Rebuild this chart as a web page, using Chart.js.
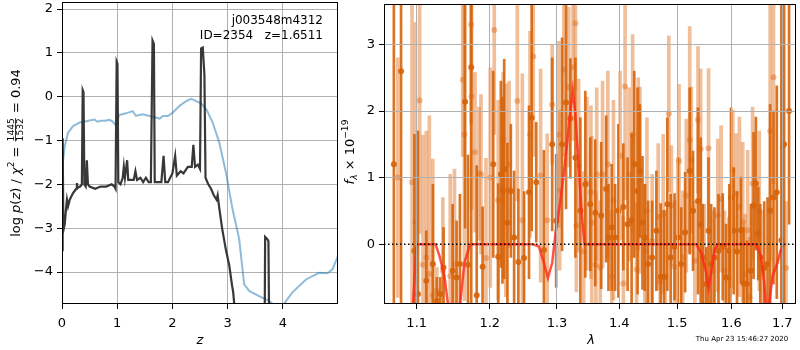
<!DOCTYPE html>
<html>
<head>
<meta charset="utf-8">
<script src="https://cdn.jsdelivr.net/npm/chart.js@4.4.0/dist/chart.umd.min.js"></script>
<style>
  body { margin: 0; background: #fff; }
  #wrap { position: relative; width: 800px; height: 350px; }
  canvas { position: absolute; left: 0; top: 0; }
</style>
</head>
<body>
<div id="wrap">
  <canvas id="pz" width="800" height="350"></canvas>
  <canvas id="spec" width="800" height="350"></canvas>
</div>
<script>
// ---- left panel: log p(z) ----
const zTicks = [0, 1, 2, 3, 4];
const logpTicks = [-4, -3, -2, -1, 0, 1, 2];

const pzZDark = [0, 0.012, 0.025, 0.05, 0.07, 0.09, 0.11, 0.14, 0.2, 0.26, 0.27, 0.28, 0.33, 0.36, 0.375, 0.39, 0.405, 0.43, 0.45, 0.47, 0.5, 0.6, 0.7, 0.8, 0.9, 0.95, 0.97, 0.99, 1.005, 1.02, 1.06, 1.1, 1.12, 1.14, 1.18, 1.2, 1.25, 1.3, 1.33, 1.36, 1.42, 1.47, 1.52, 1.57, 1.61, 1.64, 1.665, 1.68, 1.75, 1.8, 1.84, 1.87, 1.92, 1.96, 2.0, 2.05, 2.08, 2.15, 2.2, 2.28, 2.35, 2.38, 2.41, 2.46, 2.5, 2.52, 2.55, 2.58, 2.6, 2.65, 2.7, 2.75, 2.8, 2.82, 2.85, 2.9, 2.97, 3.03, 3.08, 3.1, 3.14, 3.3, 3.66, 3.68, 3.72, 3.74, 3.77, 3.9];
const pzLogDark = [-3.5, -0.95, -3.05, -2.9, -2.6, -2.35, -2.5, -2.35, -2.2, -2.1, -1.97, -2.08, -2.05, -2.0, 0.15, 0.1, -2.0, -2.05, -1.45, -2.0, -2.05, -2.1, -2.05, -2.05, -2.0, -2.05, -2.1, 0.8, 0.75, -1.95, -2.0, -1.85, -1.6, -1.85, -1.45, -1.9, -1.9, -1.9, -1.7, -1.9, -1.85, -1.95, -1.85, -1.95, -1.95, 1.28, 1.2, -1.95, -1.95, -1.95, -1.35, -1.95, -1.95, -1.85, -1.75, -1.35, -1.8, -1.7, -1.75, -1.6, -1.6, -1.1, -1.6, -1.55, -1.65, 1.1, 1.12, 0.5, -1.85, -2.0, -2.1, -2.25, -2.35, -2.25, -2.55, -3.0, -3.5, -3.85, -4.3, -4.45, -5.0, -8, -8, -3.2, -3.25, -3.3, -8, -8];

const pzZBlue = [0, 0.05, 0.11, 0.2, 0.32, 0.44, 0.52, 0.59, 0.64, 0.7, 0.78, 0.86, 0.92, 0.96, 1.0, 1.03, 1.16, 1.28, 1.34, 1.4, 1.46, 1.55, 1.64, 1.77, 1.83, 1.92, 2.0, 2.13, 2.25, 2.34, 2.43, 2.52, 2.62, 2.73, 2.85, 2.97, 3.09, 3.21, 3.3, 3.39, 3.57, 3.75, 3.87, 3.99, 4.17, 4.42, 4.66, 4.81, 4.9, 5.0];
const pzLogBlue = [-1.66, -1.13, -0.82, -0.67, -0.59, -0.56, -0.54, -0.52, -0.57, -0.55, -0.55, -0.53, -0.57, -0.63, -0.62, -0.42, -0.38, -0.33, -0.44, -0.42, -0.4, -0.43, -0.46, -0.5, -0.44, -0.44, -0.37, -0.21, -0.1, -0.05, -0.1, -0.15, -0.3, -0.59, -1.05, -1.73, -2.57, -3.25, -4.28, -4.43, -4.55, -4.66, -4.78, -4.78, -4.47, -4.17, -4.02, -4.03, -3.94, -3.63];

// ---- right panel: spectrum ----
const lamTicks = [1.1, 1.2, 1.3, 1.4, 1.5, 1.6, 1.7];
const fluxTicks = [0, 1, 2, 3];

// darker grism points
const g1Wave = [1.0705, 1.0797, 1.0970, 1.1017, 1.1127, 1.1214, 1.1267, 1.1313, 1.1357, 1.1481, 1.1535, 1.1581, 1.1652, 1.1693, 1.1738, 1.1815, 1.1898, 1.2050, 1.2121, 1.2160, 1.2183, 1.2208, 1.2255, 1.2305, 1.2353, 1.2416, 1.2500, 1.2574, 1.2614, 1.2683, 1.2799, 1.2926, 1.2987, 1.3079, 1.3141, 1.3209, 1.3288, 1.3367, 1.3446, 1.3526, 1.3606, 1.3703, 1.3784, 1.3822, 1.3876, 1.3931, 1.3986, 1.4069, 1.4140, 1.4208, 1.4253, 1.4309, 1.4349, 1.4393, 1.4433, 1.4490, 1.4559, 1.4633, 1.4709, 1.4767, 1.4825, 1.4884, 1.4954, 1.5013, 1.5072, 1.5143, 1.5226, 1.5286, 1.5377, 1.5426, 1.5467, 1.5529, 1.5571, 1.5619, 1.5681, 1.5756, 1.5837, 1.5899, 1.5962, 1.5993, 1.6044, 1.6108, 1.6184, 1.6234, 1.6300, 1.6377, 1.6429, 1.6474, 1.6521, 1.6560, 1.6638, 1.6704, 1.6756, 1.6823, 1.6889, 1.6982, 1.7037, 1.7138];
const g1Flux = [1.2, 2.6, -0.1, -0.75, -0.55, -0.3, -0.85, -0.75, -0.35, -0.4, -0.5, -0.3, 2.14, -0.31, 2.66, -0.77, -0.34, 1.2, -0.19, 1.05, 0.81, 1.13, 0.32, 0.8, 0.1, -0.27, -0.21, 0.78, 1.9, 0.93, -0.09, 1.5, 0.35, 1.5, 2.13, 1.89, 1.3, 0.5, 0.9, 0.6, 0.47, 0.43, 0.83, 0.1, 0.25, 0.1, 0.5, 0.56, 0.3, 0.36, 1.2, 0.8, 1.1, 0.32, 0.1, -0.3, -0.2, 0.2, -0.49, -0.49, 0.6, -0.2, -0.04, 0.1, -0.3, 0.18, 1.1, 0.5, 0.65, 0.3, -0.2, -0.6, 0.2, -0.3, -0.2, -0.1, -0.04, -0.5, -0.1, 0.7, 0.2, -0.11, 0.21, -0.59, -0.6, -0.4, 0.58, 0.91, 0.16, -0.2, -0.36, -0.3, 0.5, 0.7, 0.78, 0.06, 1.5, 2.0];
const g1Err = [3.0, 3.6, 1.75, 2.45, 0.75, 1.2, 0.35, 0.25, 0.6, 1.0, 0.85, 1.05, 1.9, 1.65, 3.6, 1.95, 0.9, 1.4, 1.1, 1.4, 1.4, 1.65, 1.2, 1.0, 1.0, 1.1, 1.0, 1.3, 1.7, 0.9, 1.5, 1.3, 1.0, 1.6, 1.6, 0.9, 1.5, 1.4, 1.4, 1.0, 1.1, 1.1, 1.1, 0.8, 0.95, 0.8, 1.3, 0.95, 1.0, 1.3, 1.4, 1.55, 1.0, 1.0, 0.8, 0.95, 0.85, 0.9, 1.1, 1.0, 1.3, 0.95, 0.8, 1.2, 0.85, 0.9, 1.25, 0.9, 1.4, 1.3, 0.8, 0.55, 1.1, 0.9, 0.75, 0.85, 0.8, 0.8, 1.0, 1.35, 0.95, 0.9, 0.8, 0.85, 0.65, 1.0, 1.1, 1.0, 0.7, 0.8, 1.0, 1.0, 1.6, 1.3, 1.6, 4.0, 3.5, 1.7];

// lighter grism points
const g2Wave = [1.0755, 1.0939, 1.0983, 1.1039, 1.1082, 1.1127, 1.1167, 1.1214, 1.1267, 1.1348, 1.1448, 1.1506, 1.1620, 1.1643, 1.1736, 1.1743, 1.1791, 1.1847, 1.1875, 1.1946, 1.2007, 1.2064, 1.2121, 1.2193, 1.2232, 1.2280, 1.2401, 1.2475, 1.2589, 1.2638, 1.2749, 1.2849, 1.2926, 1.3028, 1.3043, 1.3106, 1.3183, 1.3250, 1.3288, 1.3304, 1.3340, 1.3419, 1.3472, 1.3536, 1.3550, 1.3616, 1.3630, 1.3687, 1.3725, 1.3812, 1.3876, 1.3904, 1.4015, 1.4069, 1.4098, 1.4165, 1.4225, 1.4292, 1.4320, 1.4349, 1.4433, 1.4470, 1.4560, 1.4665, 1.4700, 1.4752, 1.4792, 1.4852, 1.4898, 1.4954, 1.5034, 1.5100, 1.5164, 1.5226, 1.5255, 1.5320, 1.5377, 1.5426, 1.5490, 1.5571, 1.5650, 1.5743, 1.5805, 1.5870, 1.5950, 1.6027, 1.6090, 1.6155, 1.6218, 1.6260, 1.6314, 1.6350, 1.6410, 1.6541, 1.6600, 1.6756, 1.6823, 1.7009, 1.7076];
const g2Flux = [1.0, 0.93, 0.33, 2.16, -0.31, -0.2, -0.45, -0.77, -0.7, -0.4, -0.48, -0.3, 2.47, 1.65, 3.3, 2.22, 1.38, 1.06, 1.05, -0.21, 1.0, 3.22, 0.66, 1.58, 0.81, 1.2, 2.15, 0.36, 1.65, 2.82, 1.03, 0.36, 2.1, 1.65, 0.81, 2.62, 2.36, 2.66, 3.32, 0.28, 1.18, -0.11, 0.91, 0.78, 0.32, -0.31, 1.05, -0.35, 1.05, 1.2, -0.49, 0.66, 1.33, -0.59, 2.37, 1.05, 1.65, -0.38, 1.2, 0.96, -0.1, 0.5, 0.05, 0.41, -0.56, 0.45, -0.49, 1.96, 0.58, -0.34, 1.25, -0.2, 0.73, 1.57, 1.26, -0.25, 1.87, 1.43, -0.3, 1.44, -0.4, 0.43, 0.68, -0.4, -0.5, 1.11, 0.76, 0.56, 0.33, -0.45, 0.21, -0.8, 0.91, 0.5, -0.4, 1.7, 2.51, 1.46, -0.36];
const g2Err = [1.8, 3.0, 3.0, 2.0, 1.95, 1.9, 2.38, 2.05, 0.35, 1.1, 1.53, 1.43, 1.15, 2.5, 1.5, 1.7, 1.2, 1.0, 1.2, 1.5, 1.65, 1.57, 1.5, 1.0, 1.6, 1.25, 1.5, 2.2, 1.55, 1.5, 1.6, 1.3, 0.9, 1.4, 1.2, 1.3, 1.2, 1.1, 1.0, 1.0, 1.3, 1.2, 1.3, 1.3, 1.3, 1.1, 1.3, 1.0, 1.4, 1.4, 1.0, 1.5, 1.27, 1.0, 1.7, 1.3, 1.5, 1.0, 1.3, 1.4, 1.0, 1.4, 1.0, 1.1, 1.0, 1.2, 1.0, 1.17, 0.9, 1.0, 1.15, 1.0, 1.15, 1.7, 1.1, 0.9, 1.1, 1.2, 0.9, 1.2, 0.9, 1.15, 1.1, 0.9, 0.9, 0.9, 0.9, 1.35, 1.2, 0.9, 1.2, 0.9, 1.15, 1.2, 0.9, 1.95, 1.6, 1.5, 1.0];

// best-fit model
const modelWave = [1.09, 1.0952, 1.0996, 1.1017, 1.125, 1.1303, 1.137, 1.1415, 1.15, 1.1584, 1.1643, 1.1712, 1.1735, 1.2624, 1.2723, 1.2799, 1.286, 1.2926, 1.2977, 1.3054, 1.3105, 1.3157, 1.3209, 1.3246, 1.3288, 1.334, 1.3392, 1.3435, 1.5345, 1.5436, 1.5527, 1.5571, 1.5619, 1.5681, 1.5743, 1.6474, 1.6572, 1.6638, 1.667, 1.6704, 1.6737, 1.6804, 1.6903, 1.697, 1.7038];
const modelFlux = [-3, -0.89, -0.035, 0, 0, -0.18, -0.48, -0.89, -3, -0.89, -0.28, -0.035, 0, 0, -0.035, -0.28, -0.51, -0.28, 0.16, 0.66, 1.06, 1.51, 2.0, 2.31, 1.96, 1.16, 0.41, 0, 0, -0.13, -0.43, -0.66, -0.43, -0.085, 0, 0, -0.18, -0.58, -0.89, -3, -0.89, -0.48, -0.28, -0.085, 0];

const lamMin = 1.058, lamMax = 1.728;

const fam = "'DejaVu Sans', sans-serif";
Chart.defaults.font.family = fam;
Chart.defaults.color = "#000";

const minus = (v) => (v < 0 ? "\u2212" + Math.abs(v) : String(v));
const setTicks = (list) => (scale) => { scale.ticks = list.map((v) => ({ value: v })); };
// fixed axis boxes, no extra label padding pushing the plot area around
const fixHeight = (h) => (s) => { s.height = h; s.paddingLeft = 0; s.paddingRight = 0; };
const fixWidth = (w) => (s) => { s.width = w; s.paddingTop = 0; s.paddingBottom = 0; };

function pairs(xs, ys) {
  return xs.map((x, i) => ({ x: x, y: ys[i] }));
}
function errBars(xs, ys, es) {
  return xs.map((x, i) => ({ x: x, y: [ys[i] - es[i], ys[i] + es[i]] }));
}

// rich text: small helper for mathtext-like labels
function partFont(p, size) {
  return (p.italic ? "italic " : "") + (size * (p.scale || 1)).toFixed(1) + "px " + fam;
}
function partWidth(ctx, p, size) {
  ctx.font = partFont(p, size);
  if (p.num) return Math.max(ctx.measureText(p.num).width, ctx.measureText(p.den).width) + 2;
  return ctx.measureText(p.text).width;
}
function drawRich(ctx, parts, cx, cy, size, angle) {
  ctx.save();
  ctx.translate(cx, cy);
  ctx.rotate(angle);
  ctx.fillStyle = "#000";
  ctx.textBaseline = "alphabetic";
  const widths = parts.map((p) => partWidth(ctx, p, size));
  let x = -widths.reduce((a, b) => a + b, 0) / 2;
  const base = size * 0.36;
  parts.forEach((p, i) => {
    ctx.font = partFont(p, size);
    if (p.num) {
      const w = widths[i];
      const axis = base - size * 0.32;
      ctx.textAlign = "center";
      ctx.fillText(p.num, x + w / 2, axis - 1.5);
      ctx.fillText(p.den, x + w / 2, axis + size * p.scale * 0.75 + 1);
      ctx.fillRect(x + 1, axis - 0.5, w - 2, 0.8);
    } else {
      ctx.textAlign = "left";
      ctx.fillText(p.text, x, base + (p.dy || 0));
    }
    x += widths[i];
  });
  ctx.restore();
}

// black box around the plot area
const frame = {
  id: "frame",
  afterDraw(chart) {
    const { ctx, chartArea: a } = chart;
    ctx.save();
    ctx.strokeStyle = "#000";
    ctx.lineWidth = 1;
    ctx.strokeRect(Math.round(a.left) + 0.5, Math.round(a.top) + 0.5, Math.round(a.width) - 1, Math.round(a.height) - 1);
    ctx.restore();
  },
};

const leftText = {
  id: "leftText",
  afterDraw(chart) {
    const ctx = chart.ctx;
    drawRich(ctx, [
      { text: "log " }, { text: "p", italic: true }, { text: "(" }, { text: "z", italic: true },
      { text: ") / " }, { text: "\u03c7", italic: true }, { text: "2", scale: 0.7, dy: -6 },
      { text: " = " }, { num: "1445", den: "1532", scale: 0.7 }, { text: " = 0.94" },
    ], 15, 153, 13, -Math.PI / 2);
    drawRich(ctx, [{ text: "z", italic: true }], 200, 339, 13, 0);
    ctx.save();
    ctx.font = "12px " + fam;
    ctx.fillStyle = "#000";
    ctx.textAlign = "right";
    ctx.textBaseline = "alphabetic";
    ctx.fillText("j003548m4312", 323, 24);
    ctx.fillText("ID=2354   z=1.6511", 323, 39);
    ctx.restore();
  },
};

const rightText = {
  id: "rightText",
  afterDraw(chart) {
    const ctx = chart.ctx;
    drawRich(ctx, [
      { text: "f", italic: true }, { text: "\u03bb", italic: true, scale: 0.7, dy: 3 },
      { text: " \u00d7 10" }, { text: "\u221219", scale: 0.7, dy: -6 },
    ], 349, 152, 13, -Math.PI / 2);
    drawRich(ctx, [{ text: "\u03bb", italic: true }], 591, 339, 13, 0);
    ctx.save();
    ctx.font = "7px " + fam;
    ctx.fillStyle = "#000";
    ctx.textAlign = "center";
    ctx.textBaseline = "middle";
    ctx.fillText("Thu Apr 23 15:46:27 2020", 742, 339);
    ctx.restore();
  },
};

const tickFont = { size: 13 };
const gridStyle = { color: "#b0b0b0", lineWidth: 1, tickColor: "#000", tickLength: 5 };

// Left chart
new Chart(document.getElementById("pz"), {
  type: "line",
  data: {
    datasets: [
      { data: pairs(pzZDark, pzLogDark), borderColor: "rgba(45,45,45,0.95)", borderWidth: 2.2, pointRadius: 0, tension: 0 },
      { data: pairs(pzZBlue, pzLogBlue), borderColor: "rgba(31,119,180,0.5)", borderWidth: 2, pointRadius: 0, tension: 0 },
    ],
  },
  options: {
    responsive: false,
    animation: false,
    events: [],
    layout: { padding: { left: 0, top: 2, right: 462, bottom: 0 } },
    plugins: { legend: { display: false }, tooltip: { enabled: false } },
    scales: {
      x: {
        type: "linear", min: 0, max: 5,
        afterBuildTicks: setTicks(zTicks),
        afterFit: fixHeight(46),
        grid: gridStyle, border: { display: false },
        ticks: { font: tickFont, padding: 7, maxRotation: 0, callback: (v) => minus(v) },
      },
      y: {
        type: "linear", min: -4.73, max: 2.16,
        afterBuildTicks: setTicks(logpTicks),
        afterFit: fixWidth(62),
        grid: gridStyle, border: { display: false },
        ticks: { font: tickFont, padding: 4, callback: (v) => minus(v) },
      },
    },
  },
  plugins: [frame, leftText],
});

// Right chart
new Chart(document.getElementById("spec"), {
  type: "bar",
  data: {
    datasets: [
      { type: "line", data: [{ x: lamMin, y: 0 }, { x: lamMax, y: 0 }], borderColor: "#000", borderWidth: 1.5, borderDash: [1.5, 2.5], pointRadius: 0, order: 0 },
      { type: "line", data: pairs(modelWave, modelFlux), borderColor: "rgba(255,40,25,0.8)", borderWidth: 2.5, pointRadius: 0, tension: 0, order: 1 },
      { type: "line", data: pairs(g1Wave, g1Flux), showLine: false, pointRadius: 3, pointBorderWidth: 0, pointBackgroundColor: "rgba(214,100,10,0.9)", order: 2 },
      { type: "bar", data: errBars(g1Wave, g1Flux, g1Err), backgroundColor: "rgba(214,100,10,0.9)", barThickness: 2, grouped: false, borderWidth: 0, order: 3 },
      { type: "line", data: pairs(g2Wave, g2Flux), showLine: false, pointRadius: 3, pointBorderWidth: 0, pointBackgroundColor: "rgba(224,110,30,0.45)", order: 4 },
      { type: "bar", data: errBars(g2Wave, g2Flux, g2Err), backgroundColor: "rgba(224,110,30,0.45)", barThickness: 3, grouped: false, borderWidth: 0, order: 5 },
    ],
  },
  options: {
    responsive: false,
    animation: false,
    events: [],
    layout: { padding: { left: 350, top: 2, right: 1, bottom: 0 } },
    plugins: { legend: { display: false }, tooltip: { enabled: false } },
    scales: {
      x: {
        type: "logarithmic", min: lamMin, max: lamMax, offset: false,
        afterBuildTicks: setTicks(lamTicks),
        afterFit: fixHeight(46),
        grid: Object.assign({ offset: false, z: 1 }, gridStyle), border: { display: false },
        ticks: { font: tickFont, padding: 7, maxRotation: 0, autoSkip: false, callback: (v) => Number(v).toFixed(1) },
      },
      y: {
        type: "linear", min: -0.9, max: 3.61,
        afterBuildTicks: setTicks(fluxTicks),
        afterFit: fixWidth(34),
        grid: Object.assign({}, gridStyle, {
          z: 1,
          // the dotted zero line sits where this grid line would be
          color: (c) => (c.tick && c.tick.value === 0 ? "rgba(0,0,0,0)" : "#b0b0b0"),
        }),
        border: { display: false },
        ticks: { font: tickFont, padding: 4, callback: (v) => minus(v) },
      },
    },
  },
  plugins: [frame, rightText],
});
</script>
</body>
</html>
